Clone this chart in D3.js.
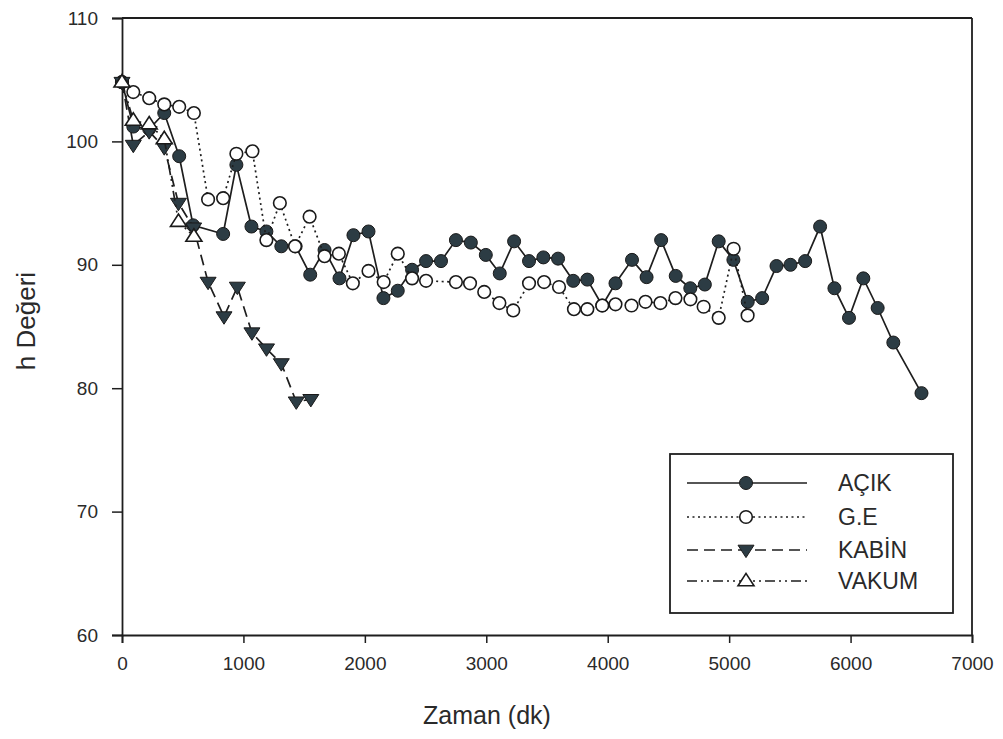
<!DOCTYPE html>
<html>
<head>
<meta charset="utf-8">
<script src="https://cdn.jsdelivr.net/npm/d3@7"></script>
<style>
  html, body { margin: 0; padding: 0; background: #fff; }
  svg { display: block; }
  text { font-family: "Liberation Sans", Arial, sans-serif; fill: #2a2a2a; }
</style>
</head>
<body>
<svg id="chart" width="1003" height="739"></svg>
<script>
// ---- Data ----
const acikX = [0, 93, 224, 348, 471, 586, 833, 942, 1066, 1189, 1312, 1430, 1550, 1668, 1791, 1906, 2030, 2153, 2271, 2389, 2504, 2627, 2750, 2873, 2996, 3111, 3229, 3352, 3470, 3591, 3716, 3832, 3955, 4064, 4200, 4320, 4440, 4560, 4680, 4800, 4914, 5035, 5153, 5272, 5390, 5505, 5626, 5749, 5867, 5987, 6105, 6223, 6352, 6584];
const acikY = [104.8, 101.2, 101.0, 102.3, 98.8, 93.2, 92.5, 98.1, 93.1, 92.7, 91.5, 91.5, 89.2, 91.2, 88.9, 92.4, 92.7, 87.3, 87.9, 89.6, 90.3, 90.3, 92.0, 91.8, 90.8, 89.3, 91.9, 90.3, 90.6, 90.5, 88.7, 88.8, 86.7, 88.5, 90.4, 89.0, 92.0, 89.1, 88.1, 88.4, 91.9, 90.4, 87.0, 87.3, 89.9, 90.0, 90.3, 93.1, 88.1, 85.7, 88.9, 86.5, 83.7, 79.6];

const geX = [0, 93, 224, 348, 471, 592, 709, 833, 942, 1074, 1189, 1300, 1425, 1545, 1668, 1786, 1901, 2030, 2155, 2271, 2389, 2504, 2750, 2866, 2983, 3108, 3222, 3352, 3476, 3599, 3722, 3832, 3955, 4064, 4196, 4311, 4434, 4558, 4681, 4790, 4914, 5037, 5152];
const geY = [104.8, 104.0, 103.5, 103.0, 102.8, 102.3, 95.3, 95.4, 99.0, 99.2, 92.0, 95.0, 91.5, 93.9, 90.7, 90.9, 88.5, 89.5, 88.6, 90.9, 88.9, 88.7, 88.6, 88.5, 87.8, 86.9, 86.3, 88.5, 88.6, 88.2, 86.4, 86.4, 86.7, 86.8, 86.7, 87.0, 86.9, 87.3, 87.2, 86.6, 85.7, 91.3, 85.9];

const kabinX = [0, 93, 224, 348, 465, 590, 709, 840, 950, 1070, 1190, 1312, 1435, 1555];
const kabinY = [104.8, 99.7, 100.8, 99.5, 95.0, 93.0, 88.6, 85.8, 88.2, 84.5, 83.2, 82.0, 78.9, 79.1];

const vakumX = [0, 93, 224, 348, 465, 592];
const vakumY = [104.8, 101.7, 101.4, 100.2, 93.5, 92.3];

const seriesNames = ["AÇIK", "G.E", "KABİN", "VAKUM"];
const xTicks = [0, 1000, 2000, 3000, 4000, 5000, 6000, 7000];
const yTicks = [60, 70, 80, 90, 100, 110];

// ---- Layout ----
const svg = d3.select("#chart");
const L = 122, R = 972, T = 18, B = 635;
const x = d3.scaleLinear().domain([0, 7000]).range([L, R]);
const y = d3.scaleLinear().domain([60, 110]).range([B, T]);

const lineCol = "#1e1e1e";
const markCol = "#2c3c44";

const styles = {
  "AÇIK":  { dash: null,               marker: "fcircle" },
  "G.E":   { dash: "2,3.5",            marker: "ocircle" },
  "KABİN": { dash: "11,6",             marker: "ftri" },
  "VAKUM": { dash: "10,4,2,4,2,4",     marker: "otri" }
};

function drawMarker(g, type, cx, cy) {
  if (type === "fcircle") {
    g.append("circle").attr("cx", cx).attr("cy", cy).attr("r", 6.5)
      .attr("fill", markCol).attr("stroke", "#1a1a1a").attr("stroke-width", 1);
  } else if (type === "ocircle") {
    g.append("circle").attr("cx", cx).attr("cy", cy).attr("r", 6.3)
      .attr("fill", "#fff").attr("stroke", "#1a1a1a").attr("stroke-width", 1.6);
  } else if (type === "ftri") {
    const s = 8;
    g.append("path").attr("d", `M${cx - s},${cy - s * 0.6} L${cx + s},${cy - s * 0.6} L${cx},${cy + s * 0.95} Z`)
      .attr("fill", markCol).attr("stroke", "#1a1a1a").attr("stroke-width", 1);
  } else if (type === "otri") {
    const s = 8;
    g.append("path").attr("d", `M${cx - s},${cy + s * 0.6} L${cx + s},${cy + s * 0.6} L${cx},${cy - s * 0.95} Z`)
      .attr("fill", "#fff").attr("stroke", "#1a1a1a").attr("stroke-width", 1.6);
  }
}

function drawSeries(name, xs, ys) {
  const st = styles[name];
  const pts = xs.map((v, i) => [v, ys[i]]);
  const g = svg.append("g");
  const line = d3.line().x(d => x(d[0])).y(d => y(d[1]));
  g.append("path").datum(pts).attr("d", line)
    .attr("fill", "none").attr("stroke", lineCol).attr("stroke-width", 1.7)
    .attr("stroke-dasharray", st.dash);
  pts.forEach(p => drawMarker(g, st.marker, x(p[0]), y(p[1])));
}

// ---- Axes ----
const xAxis = d3.axisBottom(x).tickValues(xTicks).tickSize(8).tickPadding(14).tickFormat(d3.format("d"));
const yAxis = d3.axisLeft(y).tickValues(yTicks).tickSize(10).tickPadding(14).tickFormat(d3.format("d"));

const gx = svg.append("g").attr("transform", `translate(0,${B})`).call(xAxis);
const gy = svg.append("g").attr("transform", `translate(${L},0)`).call(yAxis);
[gx, gy].forEach(g => {
  g.select(".domain").attr("stroke", lineCol).attr("stroke-width", 1.8);
  g.selectAll(".tick line").attr("stroke", lineCol).attr("stroke-width", 1.5);
  g.selectAll(".tick text").style("font-size", "19px").attr("fill", "#2a2a2a")
    .style("font-family", "'Liberation Sans', Arial, sans-serif");
});
// frame top and right
svg.append("line").attr("x1", L).attr("x2", R).attr("y1", T).attr("y2", T)
  .attr("stroke", lineCol).attr("stroke-width", 1.8);
svg.append("line").attr("x1", R).attr("x2", R).attr("y1", T).attr("y2", B)
  .attr("stroke", lineCol).attr("stroke-width", 1.8);

// axis titles
svg.append("text").attr("x", 487).attr("y", 724).attr("text-anchor", "middle")
  .style("font-size", "25px").text("Zaman (dk)");
svg.append("text").attr("transform", "translate(35,321) rotate(-90)").attr("text-anchor", "middle")
  .style("font-size", "26px").text("h Değeri");

// ---- Series ----
drawSeries("AÇIK", acikX, acikY);
drawSeries("G.E", geX, geY);
drawSeries("KABİN", kabinX, kabinY);
drawSeries("VAKUM", vakumX, vakumY);

// ---- Legend ----
const lg = svg.append("g");
lg.append("rect").attr("x", 670).attr("y", 454).attr("width", 283).attr("height", 159)
  .attr("fill", "#fff").attr("stroke", lineCol).attr("stroke-width", 1.8);
const legY = [483, 517, 550, 581];
seriesNames.forEach((n, i) => {
  const st = styles[n];
  lg.append("line").attr("x1", 687).attr("x2", 807).attr("y1", legY[i]).attr("y2", legY[i])
    .attr("stroke", lineCol).attr("stroke-width", 1.7).attr("stroke-dasharray", st.dash);
  drawMarker(lg, st.marker, 746, legY[i]);
  lg.append("text").attr("x", 838).attr("y", legY[i] + 8).style("font-size", "23px").text(n);
});
</script>
</body>
</html>
